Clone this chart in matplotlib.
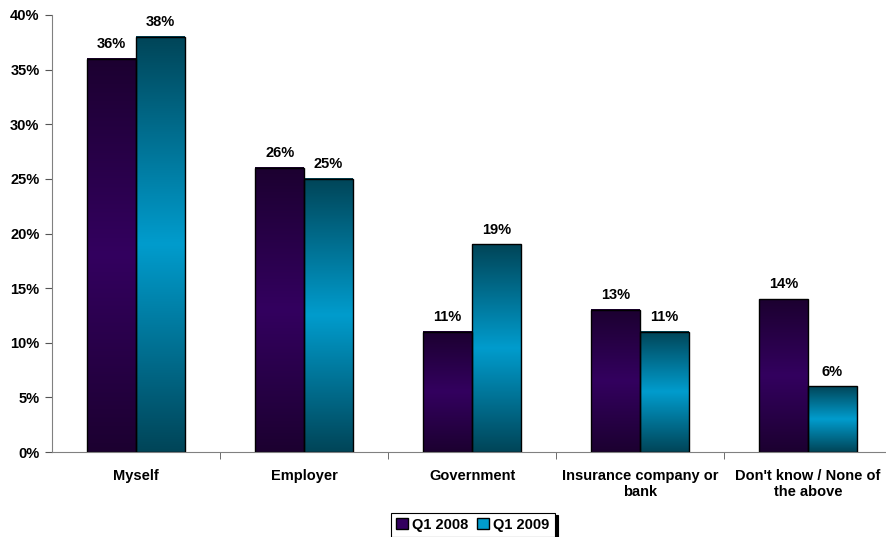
import numpy as np
from matplotlib import pyplot as plt
from matplotlib.colors import LinearSegmentedColormap
from matplotlib.patches import Patch

plt.rcParams['font.family'] = ['Liberation Sans', 'DejaVu Sans']
plt.rcParams['font.weight'] = 'bold'

categories = ["Myself", "Employer", "Government", "Insurance company or\nbank",
              "Don't know / None of\nthe above"]
q1_2008 = [36, 26, 11, 13, 14]
q1_2009 = [38, 25, 19, 11, 6]
series_names = ["Q1 2008", "Q1 2009"]

purple = LinearSegmentedColormap.from_list('p', ['#1c0030', '#33005f', '#1c0030'])
cyan = LinearSegmentedColormap.from_list('c', ['#004558', '#009ccd', '#004558'])

fig = plt.figure(figsize=(8.86, 5.37), dpi=100)
ax = fig.add_axes([52 / 886, (537 - 452) / 537, (892 - 52) / 886, (452 - 15) / 537])

x = np.arange(len(categories))
width = 0.29
grad = np.linspace(0, 1, 256).reshape(-1, 1)

for vals, cmap, off, name in [(q1_2008, purple, -width / 2, series_names[0]),
                              (q1_2009, cyan, width / 2, series_names[1])]:
    bars = ax.bar(x + off, vals, width, facecolor='none', edgecolor='black', linewidth=1, zorder=3)
    for b, v in zip(bars, vals):
        x0 = b.get_x()
        ax.imshow(grad, cmap=cmap, extent=(x0, x0 + width, 0, v), aspect='auto',
                  origin='lower', zorder=2, interpolation='bilinear')
        ax.text(x0 + width / 2, v + 0.7, f"{v}%", ha='center', va='bottom', fontsize=10.5,
                fontweight='bold')

ax.set_xlim(-0.5, 4.5)
ax.set_ylim(0, 40)
ax.set_yticks(np.arange(0, 41, 5))
ax.set_yticklabels([f"{t}%" for t in range(0, 41, 5)], fontsize=10.5, fontweight='bold')
ax.set_xticks(x)
ax.set_xticklabels(categories, fontsize=10.5, fontweight='bold')
ax.tick_params(axis='x', which='major', length=0, pad=12)
ax.set_xticks(np.arange(0.5, 4.5, 1), minor=True)
ax.tick_params(axis='x', which='minor', length=5, color='#555555', direction='out')
ax.tick_params(axis='y', length=5, color='#555555', direction='out', pad=4)

for s in ['top', 'right']:
    ax.spines[s].set_visible(False)
ax.spines['left'].set_color('#808080')
ax.spines['bottom'].set_color('#808080')

handles = [Patch(facecolor='#33005f', edgecolor='black', label=series_names[0]),
           Patch(facecolor='#009ccd', edgecolor='black', label=series_names[1])]
leg = fig.legend(handles=handles, loc='lower center', bbox_to_anchor=(473 / 886, -7 / 537),
                 ncol=2, frameon=True, fancybox=False, shadow={'color': 'black', 'alpha': 1},
                 handlelength=0.8, handleheight=0.8, handletextpad=0.3,
                 columnspacing=0.6, borderpad=0.35, prop={'weight': 'bold', 'size': 10.5})
leg.get_frame().set_edgecolor('black')
leg.get_frame().set_linewidth(0.8)

plt.savefig('out.png', dpi=100)
